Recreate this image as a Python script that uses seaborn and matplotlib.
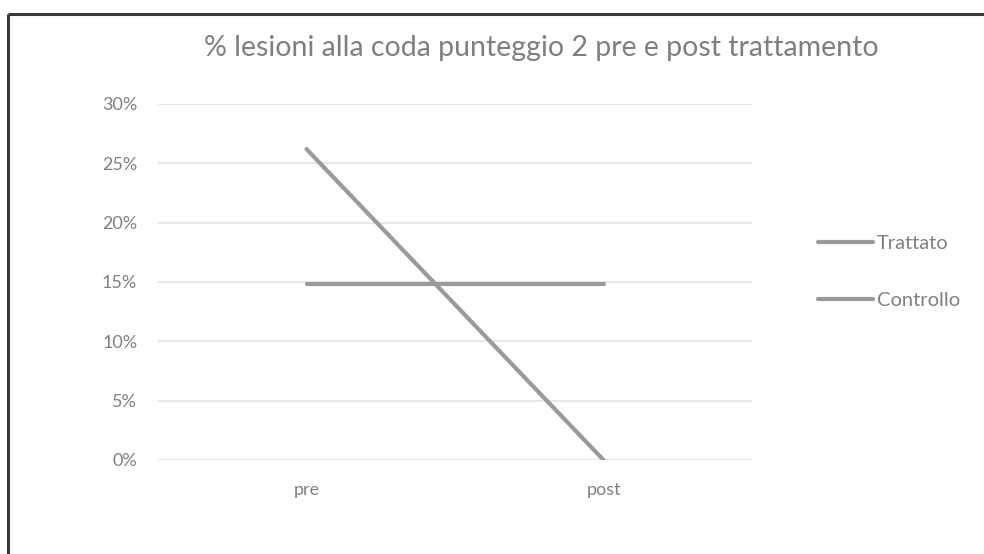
import matplotlib
matplotlib.use("Agg")
import matplotlib.pyplot as plt
from matplotlib.lines import Line2D
import seaborn as sns
import pandas as pd

# Data
phases = ["pre", "post"]
trattato = [0.262, 0.0]
controllo = [0.148, 0.148]
series_names = ["Trattato", "Controllo"]
y_ticks = [0.0, 0.05, 0.10, 0.15, 0.20, 0.25, 0.30]
title = "% lesioni alla coda punteggio 2 pre e post trattamento"

df = pd.DataFrame({
    "fase": phases * 2,
    "valore": trattato + controllo,
    "serie": [series_names[0]] * 2 + [series_names[1]] * 2,
})

sns.set_theme(style="white")
plt.rcParams["font.family"] = ["Lato", "DejaVu Sans"]

W, H = 984, 554
fig = plt.figure(figsize=(W / 100, H / 100), dpi=100)
ax = fig.add_axes([158 / W, (H - 460) / H, (752 - 158) / W, (460 - 104) / H])

line_color = "#9a9a9a"
text_color = "#808080"
sns.lineplot(data=df, x="fase", y="valore", hue="serie", palette=[line_color, line_color],
             linewidth=3, ax=ax, legend=False, sort=False)

ax.set_xlim(-0.5, 1.5)
ax.set_ylim(0, 0.30)
ax.set_yticks(y_ticks)
ax.set_yticklabels([f"{int(round(v * 100))}%" for v in y_ticks])
ax.set_xticks([0, 1])
ax.set_xticklabels(phases)
ax.set_xlabel("")
ax.set_ylabel("")
for s in ax.spines.values():
    s.set_visible(False)
ax.grid(axis="y", color="#e4e4e4", linewidth=1.2)
ax.set_axisbelow(True)
ax.tick_params(axis="both", length=0, colors=text_color, labelsize=13)
ax.tick_params(axis="y", pad=15)
ax.tick_params(axis="x", pad=16)

fig.text(541 / W, 1 - 48 / H, title, ha="center", va="center",
         fontsize=20.5, color="#7f7f7f")

handles = [Line2D([], [], color=line_color, linewidth=3) for _ in series_names]
leg = fig.legend(handles, series_names, loc="center left",
                 bbox_to_anchor=(800 / W, 1 - 272 / H), frameon=False,
                 handlelength=2.7, handletextpad=0.2, labelspacing=2.0,
                 fontsize=14.5, labelcolor=text_color)

# Outer frame: top and left edges only
fig.add_artist(Line2D([7.5 / W, 1.0], [1 - 14 / H, 1 - 14 / H], transform=fig.transFigure,
                      color="#3a3a3a", linewidth=2.2, solid_capstyle="butt"))
fig.add_artist(Line2D([7.5 / W, 7.5 / W], [0.0, 1 - 14 / H], transform=fig.transFigure,
                      color="#3a3a3a", linewidth=2.2, solid_capstyle="butt"))

fig.savefig("out.png", dpi=100)
